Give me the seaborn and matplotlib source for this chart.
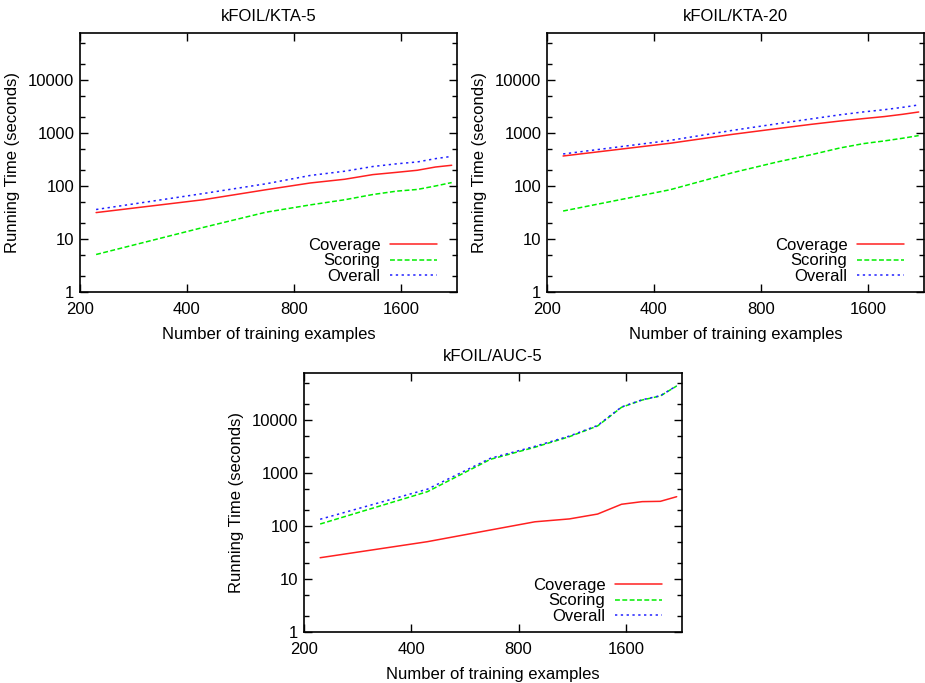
import numpy as np
import pandas as pd
import matplotlib
matplotlib.use("Agg")
import matplotlib.pyplot as plt
import seaborn as sns
from matplotlib.ticker import FixedLocator, FixedFormatter, NullFormatter, NullLocator

# ---- data ----
n_examples = [222, 444, 667, 889, 1111, 1333, 1556, 1778, 2000, 2222]
series_names = ["Coverage", "Scoring", "Overall"]

kta5_coverage = [31.5, 55, 85, 114, 134, 164, 181, 198, 228, 246]
kta5_scoring = [5.1, 16.5, 32, 44, 55, 69, 80, 86, 100, 116]
kta5_overall = [36, 72, 110, 158, 190, 233, 262, 284, 328, 362]

kta20_coverage = [368, 640, 945, 1210, 1460, 1680, 1870, 2040, 2250, 2490]
kta20_scoring = [33.7, 85, 179, 284, 391, 521, 631, 708, 795, 893]
kta20_overall = [402, 725, 1124, 1494, 1851, 2200, 2500, 2750, 3045, 3383]

auc5_coverage = [25.2, 50.6, 84, 120, 136, 168, 257, 288, 292, 357]
auc5_scoring = [109, 444, 1810, 3060, 4840, 7710, 17350, 23800, 28400, 43800]
auc5_overall = [134, 495, 1894, 3180, 4976, 7878, 17607, 24088, 28692, 44157]

panel_titles = ["kFOIL/KTA-5", "kFOIL/KTA-20", "kFOIL/AUC-5"]
x_ticks = [200, 400, 800, 1600]
y_ticks = [1, 10, 100, 1000, 10000]
y_minor = [2, 5, 20, 50, 200, 500, 2000, 5000, 20000, 50000]
x_label = "Number of training examples"
y_label = "Running Time (seconds)"

panels = [
    (kta5_coverage, kta5_scoring, kta5_overall),
    (kta20_coverage, kta20_scoring, kta20_overall),
    (auc5_coverage, auc5_scoring, auc5_overall),
]

sns.set_theme(style="white")
plt.rcParams["font.family"] = ["Liberation Sans", "DejaVu Sans"]
FS = 12
plt.rcParams.update({
    "font.size": FS,
    "text.color": "black",
    "axes.labelcolor": "black",
    "xtick.color": "black",
    "ytick.color": "black",
    "axes.edgecolor": "black",
})

palette = {"Coverage": "#ff2020", "Scoring": "#00ee00", "Overall": "#2020ff"}
dashes = {"Coverage": "", "Scoring": (3.2, 1.6), "Overall": (1.5, 2.3)}

W, H = 925, 683
fig = plt.figure(figsize=(W / 100, H / 100), dpi=100)
boxes = [(80, 33, 457, 292), (547, 33, 924, 292), (304, 373, 682, 632)]

for (l, t, r, b), title, (cov, sco, ovr) in zip(boxes, panel_titles, panels):
    ax = fig.add_axes([l / W, 1 - b / H, (r - l) / W, (b - t) / H])
    df = pd.DataFrame({
        "n": n_examples * 3,
        "time": list(cov) + list(sco) + list(ovr),
        "series": [s for s in series_names for _ in n_examples],
    })
    sns.lineplot(data=df, x="n", y="time", hue="series", style="series",
                 palette=palette, dashes=dashes, hue_order=series_names,
                 style_order=series_names, linewidth=1.1, ax=ax)
    ax.set_xscale("log")
    ax.set_yscale("log")
    ax.set_xlim(200, 2300)
    ax.set_ylim(1, 77000)
    ax.xaxis.set_major_locator(FixedLocator(x_ticks))
    ax.xaxis.set_major_formatter(FixedFormatter([str(v) for v in x_ticks]))
    ax.xaxis.set_minor_locator(NullLocator())
    ax.xaxis.set_minor_formatter(NullFormatter())
    ax.yaxis.set_major_locator(FixedLocator(y_ticks))
    ax.yaxis.set_major_formatter(FixedFormatter([str(v) for v in y_ticks]))
    ax.yaxis.set_minor_locator(FixedLocator(y_minor))
    ax.yaxis.set_minor_formatter(NullFormatter())
    ax.tick_params(which="both", direction="in", top=True, right=True,
                   bottom=True, left=True, colors="black", labelcolor="black",
                   labelsize=FS)
    ax.tick_params(which="major", length=6, width=1.0)
    ax.tick_params(which="minor", length=3.5, width=1.0)
    ax.tick_params(axis="x", pad=7.5)
    ax.tick_params(axis="y", pad=4)
    for sp in ax.spines.values():
        sp.set_color("black")
        sp.set_linewidth(1.2)
    ax.set_title(title, fontsize=FS, pad=8.5, color="black")
    ax.set_xlabel(x_label, fontsize=FS, labelpad=7, color="black")
    ax.set_ylabel(y_label, fontsize=FS, labelpad=6, color="black")
    ax.grid(False)
    leg = ax.legend(loc="lower right", bbox_to_anchor=(0.947, 0.03), frameon=False,
                    markerfirst=False, borderpad=0, borderaxespad=0,
                    handlelength=2.8, handletextpad=0.6, labelspacing=0.05,
                    fontsize=FS)
    for txt in leg.get_texts():
        txt.set_color("black")

fig.savefig("out.png", dpi=100, facecolor="white")
